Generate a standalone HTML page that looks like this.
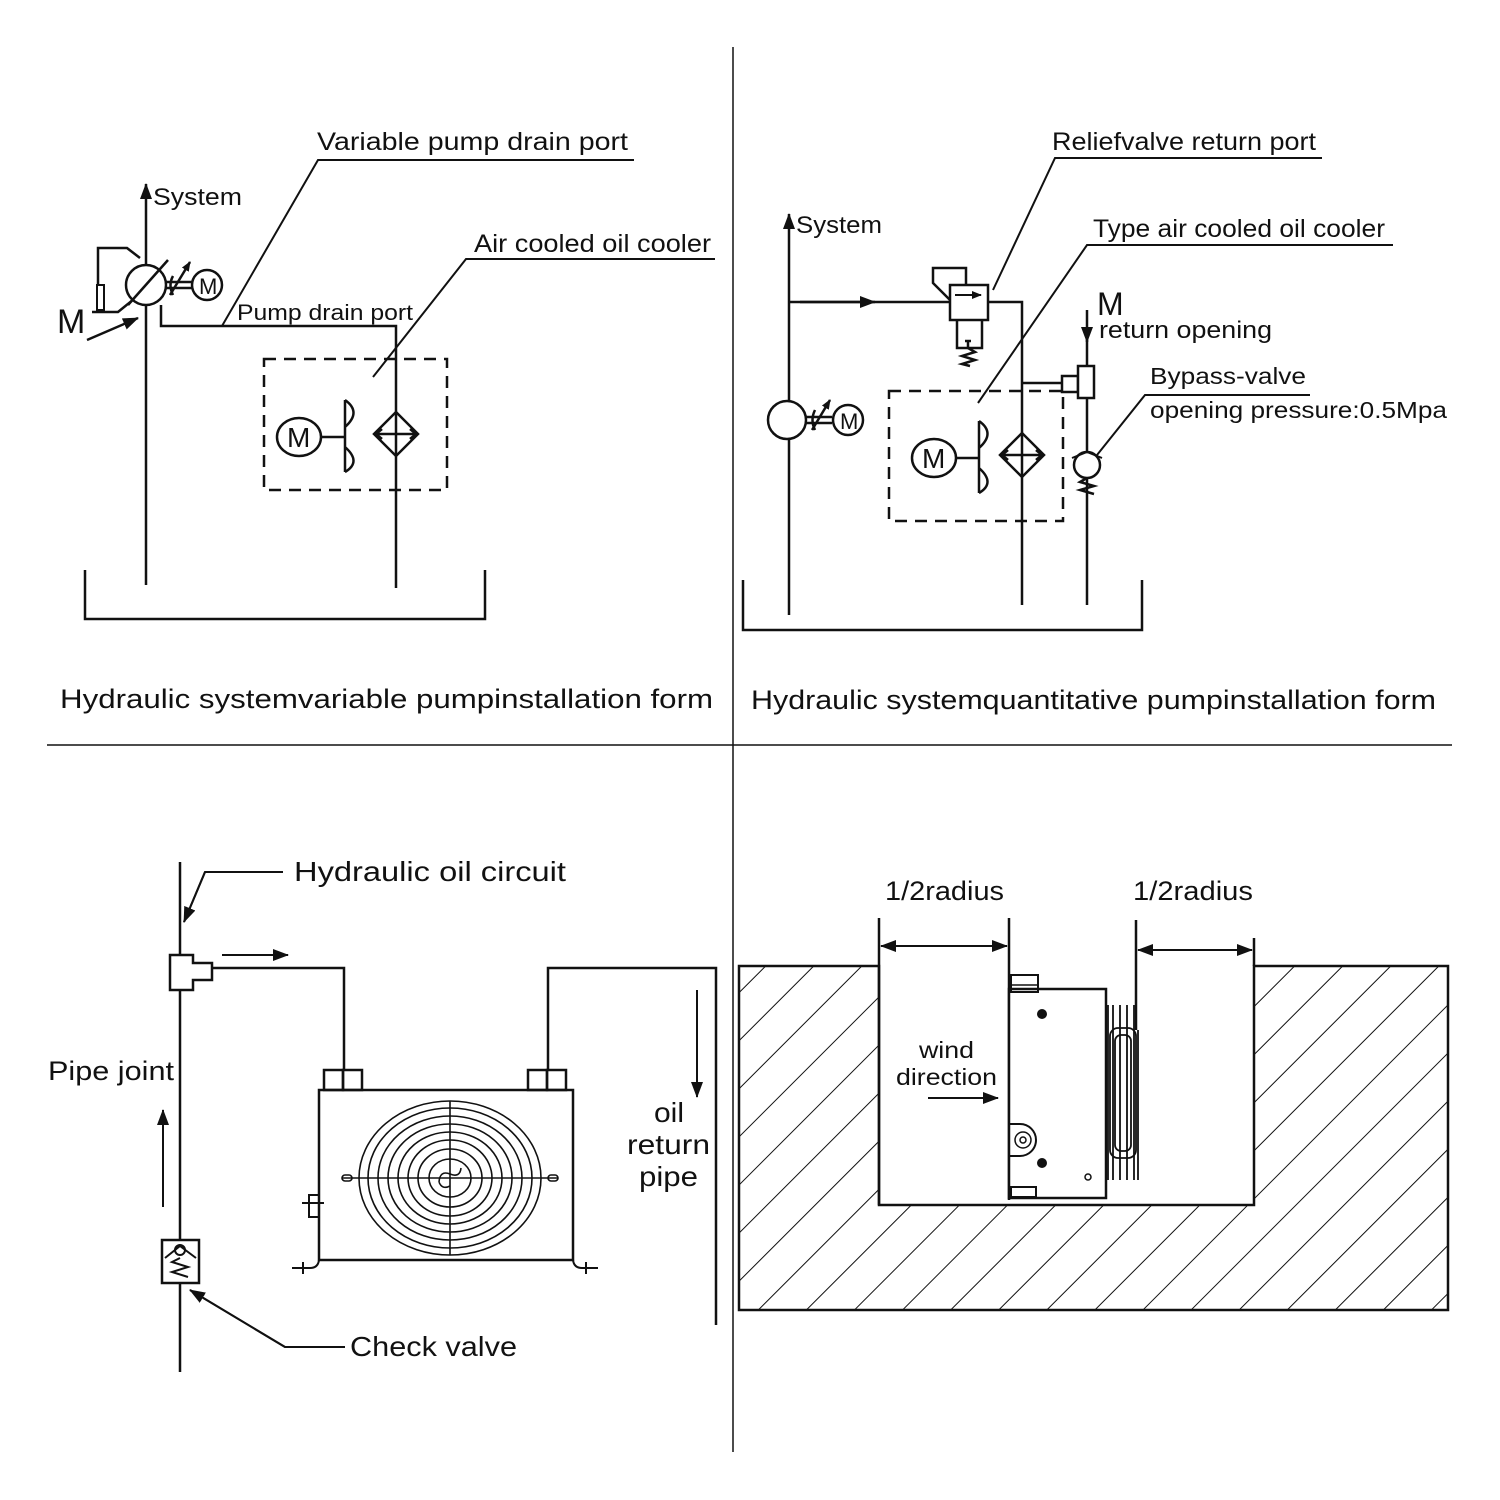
<!DOCTYPE html>
<html><head><meta charset="utf-8"><style>
html,body{margin:0;padding:0;background:#fff}
svg{display:block}
text{font-family:"Liberation Sans","DejaVu Sans",sans-serif;fill:#111}
</style></head><body>
<svg width="1500" height="1500" viewBox="0 0 1500 1500" xmlns="http://www.w3.org/2000/svg">
<defs>
<pattern id="h" patternUnits="userSpaceOnUse" width="34" height="34" patternTransform="rotate(45)">
<line x1="0" y1="0" x2="0" y2="34" stroke="#111" stroke-width="2"/>
</pattern>
<marker id="a" markerWidth="10" markerHeight="10" refX="9" refY="5" orient="auto" markerUnits="userSpaceOnUse" viewBox="0 0 10 10"><path d="M0,1 L10,5 L0,9 Z" fill="#111"/></marker>
<marker id="b" markerWidth="16" markerHeight="12" refX="15" refY="6" orient="auto" markerUnits="userSpaceOnUse" viewBox="0 0 16 12"><path d="M0,0 L16,6 L0,12 Z" fill="#111"/></marker>
</defs>
<g stroke="#111" stroke-width="2.5" fill="none">
<line x1="733" y1="47" x2="733" y2="1452" stroke-width="1.5"/>
<line x1="47" y1="745" x2="1452" y2="745" stroke-width="1.5"/>

<!-- TOP LEFT -->
<line x1="146" y1="585" x2="146" y2="184" marker-end="url(#b)"/>
<circle cx="146" cy="285" r="20" fill="#fff"/>
<line x1="128" y1="305" x2="168" y2="260"/>
<line x1="166" y1="282" x2="192" y2="282"/><line x1="166" y1="288" x2="192" y2="288"/>
<path d="M173,276 Q168,285 173,295"/>
<line x1="170" y1="295" x2="190" y2="262" marker-end="url(#a)"/>
<circle cx="207" cy="285" r="15"/>
<polyline points="140,258 127,248 98,248 98,285"/>
<rect x="97" y="285" width="7" height="25" stroke-width="2"/>
<polyline points="92,312 118,312 134,299"/>
<line x1="87" y1="340" x2="138" y2="318" marker-end="url(#b)"/>
<polyline points="161,305 161,326 396,326 396,588"/>
<polyline points="222,326 318,160 634,160" stroke-width="2"/>
<polyline points="373,377 466,259 715,259" stroke-width="2"/>
<rect x="264" y="359" width="183" height="131" stroke-dasharray="12,8"/>
<ellipse cx="299" cy="437" rx="22" ry="19"/>
<line x1="321" y1="437" x2="345" y2="437"/>
<path d="M345,400 L345,472 M345,400 Q362,412 345,427 M345,447 Q362,462 345,472"/>
<path d="M396,412 L418,434 L396,456 L374,434 Z"/>
<line x1="376" y1="434" x2="416" y2="434"/>
<path d="M382,429 L376,434 L382,439 M410,429 L416,434 L410,439"/>
<polyline points="85,570 85,619 485,619 485,570"/>

<!-- TOP RIGHT -->
<line x1="789" y1="615" x2="789" y2="214" marker-end="url(#b)"/>
<line x1="789" y1="302" x2="950" y2="302"/>
<line x1="800" y1="302" x2="875" y2="302" marker-end="url(#b)"/>
<rect x="950" y="285" width="38" height="35"/>
<line x1="955" y1="295" x2="981" y2="295" stroke-width="2" marker-end="url(#a)"/>
<polyline points="966,285 966,268 933,268 933,283 950,300"/>
<polyline points="957,320 957,348 982,348 982,320"/>
<path d="M968,340 L968,348 M965,341 L971,341 M968,348 L975,352 L962,356 L975,360 L962,364 L970,366"/>
<polyline points="988,302 1022,302 1022,605"/>
<polyline points="993,290 1055,158 1322,158" stroke-width="2"/>
<polyline points="978,403 1087,245 1393,245" stroke-width="2"/>
<line x1="1087" y1="310" x2="1087" y2="342" marker-end="url(#b)"/>
<line x1="1087" y1="340" x2="1087" y2="605"/>
<line x1="1022" y1="383" x2="1062" y2="383"/>
<rect x="1062" y="376" width="16" height="16" fill="#fff"/>
<rect x="1078" y="366" width="16" height="32" fill="#fff"/>
<circle cx="1087" cy="465" r="13" fill="#fff"/>
<path d="M1072,458 L1087,452 L1102,458" stroke-width="2"/>
<path d="M1087,478 L1080,482 L1094,486 L1080,490 L1094,494"/>
<polyline points="1097,455 1145,395 1310,395" stroke-width="2"/>
<circle cx="787" cy="420" r="19" fill="#fff"/>
<line x1="806" y1="417" x2="832" y2="417"/><line x1="806" y1="423" x2="832" y2="423"/>
<path d="M815,410 Q810,420 815,430"/>
<line x1="812" y1="430" x2="830" y2="400" marker-end="url(#a)"/>
<circle cx="848" cy="420" r="15"/>
<rect x="889" y="391" width="174" height="130" stroke-dasharray="12,8"/>
<ellipse cx="934" cy="458" rx="22" ry="19"/>
<line x1="956" y1="458" x2="979" y2="458"/>
<path d="M979,421 L979,493 M979,421 Q996,433 979,448 M979,468 Q996,483 979,493"/>
<path d="M1022,433 L1044,455 L1022,477 L1000,455 Z"/>
<line x1="1002" y1="455" x2="1042" y2="455"/>
<path d="M1008,450 L1002,455 L1008,460 M1036,450 L1042,455 L1036,460"/>
<polyline points="743,580 743,630 1142,630 1142,580"/>

<!-- BOTTOM LEFT -->
<line x1="180" y1="862" x2="180" y2="1372"/>
<polyline points="283,872 205,872 184,922" stroke-width="2"/>
<line x1="205" y1="872" x2="184" y2="922" marker-end="url(#b)" stroke-width="2"/>
<path d="M170,955 L193,955 L193,963 L212,963 L212,980 L193,980 L193,990 L170,990 Z" fill="#fff"/>
<line x1="222" y1="955" x2="288" y2="955" marker-end="url(#b)" stroke-width="2"/>
<polyline points="212,968 344,968 344,1070"/>
<rect x="324" y="1070" width="19" height="20"/><rect x="343" y="1070" width="19" height="20"/>
<polyline points="548,1070 548,968 716,968 716,1325"/>
<rect x="528" y="1070" width="19" height="20"/><rect x="547" y="1070" width="19" height="20"/>
<rect x="319" y="1090" width="254" height="170"/>
<g stroke-width="1.6">
<ellipse cx="450" cy="1178" rx="91" ry="77"/>
<ellipse cx="450" cy="1178" rx="82" ry="70"/>
<ellipse cx="450" cy="1178" rx="72" ry="62"/>
<ellipse cx="450" cy="1178" rx="62" ry="54"/>
<ellipse cx="450" cy="1178" rx="52" ry="46"/>
<ellipse cx="450" cy="1178" rx="42" ry="38"/>
<ellipse cx="450" cy="1178" rx="32" ry="29"/>
<ellipse cx="450" cy="1178" rx="21" ry="19"/>
<path d="M439,1182 Q440,1170 450,1174 Q460,1178 461,1168 M439,1182 Q442,1190 450,1186"/>
<line x1="450" y1="1101" x2="450" y2="1255"/>
<line x1="342" y1="1178" x2="558" y2="1178"/>
<rect x="342" y="1175" width="10" height="6" rx="3"/><rect x="548" y="1175" width="10" height="6" rx="3"/>
</g>
<rect x="309" y="1195" width="10" height="22" stroke-width="2"/><line x1="302" y1="1203" x2="324" y2="1203" stroke-width="2"/>
<path d="M319,1260 Q318,1268 310,1268 L292,1268 M303,1262 L303,1274" stroke-width="2"/>
<path d="M573,1260 Q574,1268 582,1268 L598,1268 M586,1262 L586,1274" stroke-width="2"/>
<line x1="697" y1="990" x2="697" y2="1097" marker-end="url(#b)" stroke-width="2"/>
<line x1="163" y1="1207" x2="163" y2="1110" marker-end="url(#b)" stroke-width="2"/>
<rect x="162" y="1240" width="37" height="43" fill="#fff"/>
<path d="M165,1258 L180,1246 L196,1258" stroke-width="2"/>
<circle cx="180" cy="1250" r="5" stroke-width="2"/>
<path d="M180,1258 L172,1262 L188,1267 L172,1272 L188,1277" stroke-width="2"/>
<polyline points="345,1347 285,1347 190,1290" stroke-width="2"/>
<line x1="285" y1="1347" x2="190" y2="1290" marker-end="url(#b)" stroke-width="2"/>

<!-- BOTTOM RIGHT -->
<path d="M739,966 L879,966 L879,1205 L1254,1205 L1254,966 L1448,966 L1448,1310 L739,1310 Z" fill="url(#h)"/>
<line x1="879" y1="918" x2="879" y2="1205"/>
<line x1="1009" y1="918" x2="1009" y2="1200"/>
<line x1="1136" y1="920" x2="1136" y2="1005"/>
<line x1="1254" y1="938" x2="1254" y2="966"/>
<line x1="900" y1="946" x2="881" y2="946" marker-end="url(#b)" stroke-width="2"/>
<line x1="890" y1="946" x2="1007" y2="946" marker-end="url(#b)" stroke-width="2"/>
<line x1="1150" y1="950" x2="1138" y2="950" marker-end="url(#b)" stroke-width="2"/>
<line x1="1145" y1="950" x2="1252" y2="950" marker-end="url(#b)" stroke-width="2"/>
<rect x="1009" y="989" width="97" height="209" fill="#fff"/>
<rect x="1011" y="975" width="27" height="17" stroke-width="2"/>
<line x1="1011" y1="985" x2="1038" y2="985" stroke-width="1.5"/>
<rect x="1011" y="1187" width="25" height="10" stroke-width="2"/>
<path d="M1009,1124 L1020,1124 A16,16 0 0 1 1020,1156 L1009,1156" stroke-width="2"/>
<circle cx="1023" cy="1140" r="8" stroke-width="1.5"/><circle cx="1023" cy="1140" r="3" stroke-width="1.5"/>
<g stroke-width="1.8">
<line x1="1108" y1="1005" x2="1108" y2="1180"/><line x1="1113" y1="1005" x2="1113" y2="1180"/>
<line x1="1120" y1="1005" x2="1120" y2="1180"/><line x1="1127" y1="1005" x2="1127" y2="1180"/>
<line x1="1134" y1="1005" x2="1134" y2="1180"/><line x1="1138" y1="1030" x2="1138" y2="1180"/>
<rect x="1110" y="1028" width="26" height="130" rx="8"/>
<rect x="1115" y="1035" width="16" height="116" rx="6"/>
</g>
<line x1="928" y1="1098" x2="998" y2="1098" marker-end="url(#b)" stroke-width="2"/>
<line x1="1136" y1="1005" x2="1136" y2="1030"/>
</g>
<g fill="#111">
<circle cx="1042" cy="1014" r="5"/><circle cx="1042" cy="1163" r="5"/>
</g>
<circle cx="1088" cy="1177" r="3" fill="none" stroke="#111" stroke-width="1.5"/>

<!-- TEXT -->
<g lengthAdjust="spacingAndGlyphs">
<text x="153" y="205" font-size="24" textLength="89" lengthAdjust="spacingAndGlyphs">System</text>
<text x="199" y="294" font-size="22">M</text>
<text x="57" y="333" font-size="34">M</text>
<text x="317" y="150" font-size="25" textLength="311" lengthAdjust="spacingAndGlyphs">Variable  pump drain port</text>
<text x="237" y="320" font-size="22" textLength="176" lengthAdjust="spacingAndGlyphs">Pump drain port</text>
<text x="474" y="252" font-size="25" textLength="237" lengthAdjust="spacingAndGlyphs">Air cooled oil cooler</text>
<text x="287" y="447" font-size="28">M</text>
<text x="60" y="708" font-size="27" textLength="653" lengthAdjust="spacingAndGlyphs">Hydraulic systemvariable pumpinstallation form</text>

<text x="796" y="233" font-size="24" textLength="86" lengthAdjust="spacingAndGlyphs">System</text>
<text x="840" y="429" font-size="22">M</text>
<text x="1052" y="150" font-size="25" textLength="264" lengthAdjust="spacingAndGlyphs">Reliefvalve return port</text>
<text x="1093" y="237" font-size="25" textLength="292" lengthAdjust="spacingAndGlyphs">Type air cooled oil cooler</text>
<text x="1097" y="315" font-size="32">M</text>
<text x="1099" y="338" font-size="24" textLength="173" lengthAdjust="spacingAndGlyphs">return opening</text>
<text x="1150" y="384" font-size="23" textLength="156" lengthAdjust="spacingAndGlyphs">Bypass-valve</text>
<text x="1150" y="418" font-size="23" textLength="297" lengthAdjust="spacingAndGlyphs">opening pressure:0.5Mpa</text>
<text x="922" y="468" font-size="28">M</text>
<text x="751" y="709" font-size="27" textLength="685" lengthAdjust="spacingAndGlyphs">Hydraulic systemquantitative pumpinstallation form</text>

<text x="294" y="881" font-size="28" textLength="272" lengthAdjust="spacingAndGlyphs">Hydraulic  oil circuit</text>
<text x="48" y="1080" font-size="27" textLength="126" lengthAdjust="spacingAndGlyphs">Pipe joint</text>
<text x="654" y="1122" font-size="28" textLength="30" lengthAdjust="spacingAndGlyphs">oil</text>
<text x="627" y="1154" font-size="28" textLength="83" lengthAdjust="spacingAndGlyphs">return</text>
<text x="639" y="1186" font-size="28" textLength="59" lengthAdjust="spacingAndGlyphs">pipe</text>
<text x="350" y="1356" font-size="28" textLength="167" lengthAdjust="spacingAndGlyphs">Check valve</text>

<text x="885" y="900" font-size="27" textLength="119" lengthAdjust="spacingAndGlyphs">1/2radius</text>
<text x="1133" y="900" font-size="27" textLength="120" lengthAdjust="spacingAndGlyphs">1/2radius</text>
<text x="919" y="1058" font-size="23" textLength="55" lengthAdjust="spacingAndGlyphs">wind</text>
<text x="896" y="1085" font-size="23" textLength="101" lengthAdjust="spacingAndGlyphs">direction</text>
</g>
</svg>
</body></html>
